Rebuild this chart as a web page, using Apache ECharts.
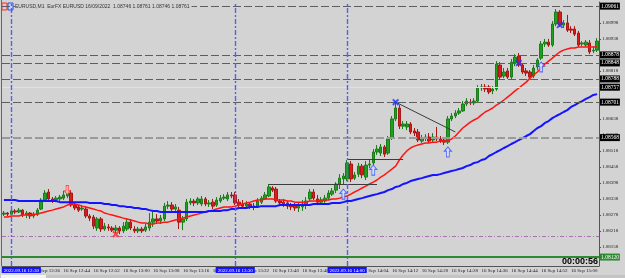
<!DOCTYPE html>
<html>
<head>
<meta charset="utf-8">
<script src="https://cdn.jsdelivr.net/npm/echarts@6/dist/echarts.min.js"></script>
<style>
html,body{margin:0;padding:0;background:#d3d3d3;}
#chart{width:625px;height:278px;}
</style>
</head>
<body>
<div id="chart"></div>
<script>
// M1 bars, 16 Sep 2022 12:28 - 15:07
const times = [
  '12:28','12:29','12:30','12:31','12:32','12:33','12:34','12:35','12:36','12:37','12:38','12:39','12:40','12:41','12:42','12:43','12:44','12:45','12:46','12:47','12:48','12:49','12:50','12:51','12:52','12:53','12:54','12:55','12:56','12:57','12:58','12:59',
  '13:00','13:01','13:02','13:03','13:04','13:05','13:06','13:07','13:08','13:09','13:10','13:11','13:12','13:13','13:14','13:15','13:16','13:17','13:18','13:19','13:20','13:21','13:22','13:23','13:24','13:25','13:26','13:27','13:28','13:29',
  '13:30','13:31','13:32','13:33','13:34','13:35','13:36','13:37','13:38','13:39','13:40','13:41','13:42','13:43','13:44','13:45','13:46','13:47','13:48','13:49','13:50','13:51','13:52','13:53','13:54','13:55','13:56','13:57','13:58','13:59',
  '14:00','14:01','14:02','14:03','14:04','14:05','14:06','14:07','14:08','14:09','14:10','14:11','14:12','14:13','14:14','14:15','14:16','14:17','14:18','14:19','14:20','14:21','14:22','14:23','14:24','14:25','14:26','14:27','14:28','14:29',
  '14:30','14:31','14:32','14:33','14:34','14:35','14:36','14:37','14:38','14:39','14:40','14:41','14:42','14:43','14:44','14:45','14:46','14:47','14:48','14:49','14:50','14:51','14:52','14:53','14:54','14:55','14:56','14:57','14:58','14:59',
  '15:00','15:01','15:02','15:03','15:04','15:05','15:06','15:07'
]

// [open, close, low, high]
const candles = [
  [1.08281,1.08285,1.08274,1.08293],[1.08285,1.08281,1.08274,1.08289],[1.08281,1.08293,1.08278,1.08300],[1.08293,1.08289,1.08281,1.08300],
  [1.08289,1.08296,1.08285,1.08304],[1.08296,1.08278,1.08270,1.08300],[1.08278,1.08285,1.08266,1.08293],[1.08285,1.08274,1.08263,1.08289],
  [1.08274,1.08281,1.08266,1.08289],[1.08281,1.08296,1.08274,1.08304],[1.08300,1.08334,1.08296,1.08341],[1.08334,1.08360,1.08330,1.08371],
  [1.08364,1.08338,1.08334,1.08375],[1.08338,1.08334,1.08323,1.08345],[1.08334,1.08341,1.08326,1.08349],[1.08338,1.08345,1.08330,1.08353],
  [1.08341,1.08353,1.08334,1.08368],[1.08349,1.08364,1.08341,1.08383],[1.08360,1.08315,1.08308,1.08371],[1.08315,1.08304,1.08296,1.08326],
  [1.08308,1.08296,1.08289,1.08315],[1.08300,1.08304,1.08293,1.08315],[1.08300,1.08274,1.08266,1.08308],[1.08274,1.08266,1.08255,1.08281],
  [1.08270,1.08236,1.08225,1.08278],[1.08229,1.08263,1.08218,1.08270],[1.08263,1.08225,1.08214,1.08270],[1.08225,1.08236,1.08218,1.08248],
  [1.08233,1.08229,1.08218,1.08244],[1.08229,1.08221,1.08214,1.08236],[1.08221,1.08229,1.08210,1.08240],[1.08229,1.08218,1.08206,1.08236],
  [1.08218,1.08236,1.08210,1.08251],[1.08225,1.08251,1.08218,1.08266],[1.08251,1.08229,1.08221,1.08263],[1.08225,1.08218,1.08210,1.08236],
  [1.08218,1.08225,1.08210,1.08233],[1.08225,1.08218,1.08210,1.08233],[1.08221,1.08233,1.08214,1.08244],[1.08229,1.08251,1.08218,1.08285],
  [1.08251,1.08263,1.08233,1.08289],[1.08263,1.08255,1.08244,1.08281],[1.08255,1.08266,1.08244,1.08278],[1.08263,1.08311,1.08255,1.08323],
  [1.08311,1.08315,1.08300,1.08330],[1.08315,1.08300,1.08293,1.08326],[1.08300,1.08308,1.08293,1.08319],[1.08296,1.08251,1.08225,1.08308],
  [1.08251,1.08263,1.08221,1.08274],[1.08263,1.08326,1.08255,1.08338],[1.08323,1.08330,1.08315,1.08341],[1.08330,1.08323,1.08311,1.08338],
  [1.08323,1.08338,1.08315,1.08345],[1.08319,1.08338,1.08311,1.08349],[1.08338,1.08319,1.08311,1.08345],[1.08319,1.08323,1.08308,1.08334],
  [1.08326,1.08311,1.08300,1.08338],[1.08315,1.08334,1.08308,1.08345],[1.08330,1.08341,1.08323,1.08353],[1.08341,1.08345,1.08334,1.08356],
  [1.08338,1.08353,1.08330,1.08364],[1.08353,1.08349,1.08341,1.08364],[1.08353,1.08323,1.08315,1.08364],[1.08326,1.08315,1.08308,1.08338],
  [1.08319,1.08311,1.08304,1.08334],[1.08311,1.08319,1.08304,1.08330],[1.08319,1.08311,1.08300,1.08326],[1.08311,1.08308,1.08296,1.08323],
  [1.08311,1.08330,1.08304,1.08341],[1.08326,1.08341,1.08319,1.08349],[1.08338,1.08353,1.08334,1.08364],[1.08349,1.08383,1.08345,1.08394],
  [1.08379,1.08371,1.08364,1.08386],[1.08375,1.08330,1.08323,1.08383],[1.08330,1.08323,1.08311,1.08338],[1.08326,1.08315,1.08308,1.08338],
  [1.08323,1.08311,1.08300,1.08330],[1.08311,1.08308,1.08296,1.08323],[1.08315,1.08304,1.08293,1.08323],[1.08304,1.08311,1.08289,1.08323],
  [1.08308,1.08319,1.08293,1.08334],[1.08315,1.08330,1.08300,1.08345],[1.08338,1.08364,1.08330,1.08375],[1.08364,1.08341,1.08334,1.08375],
  [1.08338,1.08326,1.08315,1.08353],[1.08326,1.08334,1.08319,1.08345],[1.08330,1.08341,1.08323,1.08353],[1.08341,1.08360,1.08334,1.08371],
  [1.08356,1.08368,1.08349,1.08379],[1.08371,1.08394,1.08360,1.08401],[1.08394,1.08416,1.08375,1.08431],[1.08413,1.08424,1.08394,1.08435],
  [1.08413,1.08473,1.08405,1.08484],[1.08469,1.08413,1.08401,1.08480],[1.08416,1.08428,1.08409,1.08439],[1.08431,1.08461,1.08420,1.08473],
  [1.08461,1.08428,1.08416,1.08469],[1.08420,1.08465,1.08409,1.08480],[1.08465,1.08469,1.08454,1.08484],[1.08473,1.08514,1.08465,1.08525],
  [1.08514,1.08525,1.08503,1.08540],[1.08510,1.08533,1.08499,1.08544],[1.08533,1.08506,1.08495,1.08540],[1.08510,1.08563,1.08503,1.08574],
  [1.08566,1.08638,1.08559,1.08649],[1.08638,1.08679,1.08630,1.08705],[1.08679,1.08611,1.08600,1.08690],[1.08611,1.08619,1.08600,1.08630],
  [1.08608,1.08619,1.08596,1.08630],[1.08619,1.08589,1.08581,1.08626],[1.08593,1.08585,1.08574,1.08604],[1.08589,1.08559,1.08551,1.08600],
  [1.08555,1.08566,1.08548,1.08578],[1.08566,1.08570,1.08555,1.08581],[1.08570,1.08555,1.08548,1.08585],[1.08559,1.08570,1.08551,1.08585],
  [1.08570,1.08563,1.08555,1.08608],[1.08563,1.08555,1.08548,1.08574],[1.08559,1.08551,1.08540,1.08570],[1.08551,1.08638,1.08544,1.08649],
  [1.08638,1.08649,1.08630,1.08660],[1.08649,1.08660,1.08641,1.08671],[1.08660,1.08668,1.08653,1.08679],[1.08668,1.08694,1.08664,1.08705],
  [1.08694,1.08705,1.08686,1.08716],[1.08701,1.08698,1.08690,1.08713],[1.08698,1.08705,1.08690,1.08716],[1.08705,1.08754,1.08698,1.08765],
  [1.08754,1.08758,1.08743,1.08769],[1.08758,1.08750,1.08739,1.08769],[1.08758,1.08739,1.08731,1.08765],[1.08743,1.08750,1.08731,1.08761],
  [1.08750,1.08844,1.08743,1.08855],[1.08840,1.08795,1.08788,1.08851],[1.08799,1.08814,1.08791,1.08829],[1.08818,1.08795,1.08788,1.08829],
  [1.08795,1.08851,1.08788,1.08863],[1.08848,1.08870,1.08836,1.08881],[1.08874,1.08840,1.08833,1.08885],[1.08840,1.08814,1.08806,1.08848],
  [1.08818,1.08810,1.08799,1.08829],[1.08814,1.08795,1.08788,1.08821],[1.08799,1.08829,1.08791,1.08840],[1.08833,1.08859,1.08821,1.08866],
  [1.08866,1.08919,1.08859,1.08930],[1.08919,1.08926,1.08908,1.08938],[1.08926,1.08915,1.08908,1.08938],[1.08915,1.08994,1.08908,1.09005],
  [1.08994,1.09039,1.08986,1.09050],[1.09039,1.08990,1.08983,1.09046],[1.08990,1.08998,1.08979,1.09009],[1.08998,1.08971,1.08964,1.09028],
  [1.08975,1.08971,1.08960,1.08986],[1.08975,1.08956,1.08949,1.08986],[1.08960,1.08915,1.08908,1.08968],[1.08919,1.08923,1.08911,1.08930],
  [1.08915,1.08926,1.08908,1.08934],[1.08923,1.08889,1.08881,1.08934],[1.08893,1.08896,1.08885,1.08911],[1.08896,1.08930,1.08889,1.08941]
]

// fast moving average (red)
const maFast = [
  1.08270,1.08270,1.08274,1.08274,1.08274,1.08278,1.08278,1.08278,1.08281,1.08281,
  1.08285,1.08289,1.08293,1.08296,1.08300,1.08304,1.08308,1.08315,1.08319,1.08319,
  1.08315,1.08311,1.08308,1.08304,1.08300,1.08296,1.08293,1.08285,1.08281,1.08278,
  1.08274,1.08270,1.08266,1.08263,1.08259,1.08255,1.08251,1.08248,1.08248,1.08244,
  1.08244,1.08248,1.08248,1.08251,1.08251,1.08255,1.08259,1.08263,1.08266,1.08270,
  1.08274,1.08278,1.08281,1.08285,1.08289,1.08293,1.08296,1.08300,1.08304,1.08308,
  1.08308,1.08308,1.08311,1.08315,1.08319,1.08323,1.08326,1.08330,1.08334,1.08334,
  1.08338,1.08338,1.08338,1.08334,1.08334,1.08334,1.08330,1.08330,1.08326,1.08326,
  1.08326,1.08326,1.08330,1.08330,1.08330,1.08334,1.08334,1.08334,1.08338,1.08338,
  1.08341,1.08345,1.08349,1.08356,1.08364,1.08371,1.08379,1.08386,1.08394,1.08401,
  1.08409,1.08420,1.08428,1.08439,1.08450,1.08461,1.08484,1.08503,1.08518,1.08529,
  1.08536,1.08540,1.08544,1.08548,1.08548,1.08551,1.08551,1.08555,1.08555,1.08555,
  1.08563,1.08574,1.08589,1.08604,1.08615,1.08626,1.08634,1.08641,1.08653,1.08664,
  1.08671,1.08679,1.08690,1.08698,1.08709,1.08720,1.08731,1.08743,1.08754,1.08765,
  1.08776,1.08791,1.08803,1.08814,1.08829,1.08844,1.08855,1.08866,1.08878,1.08889,
  1.08896,1.08900,1.08904,1.08904,1.08908,1.08908,1.08908,1.08908,1.08908,1.08908
]

// slow moving average (blue)
const maSlow = [
  1.08334,1.08334,1.08334,1.08334,1.08330,1.08330,1.08330,1.08330,1.08330,1.08330,
  1.08330,1.08330,1.08330,1.08330,1.08330,1.08326,1.08326,1.08326,1.08326,1.08326,
  1.08326,1.08326,1.08326,1.08323,1.08323,1.08323,1.08323,1.08319,1.08319,1.08315,
  1.08315,1.08311,1.08311,1.08308,1.08308,1.08304,1.08304,1.08300,1.08300,1.08296,
  1.08293,1.08293,1.08289,1.08289,1.08289,1.08289,1.08289,1.08289,1.08289,1.08289,
  1.08289,1.08289,1.08289,1.08289,1.08289,1.08293,1.08293,1.08293,1.08293,1.08296,
  1.08296,1.08300,1.08300,1.08304,1.08304,1.08304,1.08308,1.08308,1.08308,1.08311,
  1.08311,1.08311,1.08311,1.08311,1.08315,1.08315,1.08315,1.08315,1.08315,1.08315,
  1.08315,1.08315,1.08315,1.08319,1.08319,1.08319,1.08319,1.08319,1.08323,1.08323,
  1.08323,1.08326,1.08330,1.08330,1.08334,1.08338,1.08341,1.08345,1.08349,1.08353,
  1.08356,1.08360,1.08364,1.08371,1.08375,1.08383,1.08386,1.08394,1.08398,1.08405,
  1.08409,1.08413,1.08416,1.08420,1.08424,1.08428,1.08428,1.08431,1.08435,1.08439,
  1.08443,1.08446,1.08450,1.08454,1.08461,1.08465,1.08473,1.08476,1.08484,1.08488,
  1.08499,1.08506,1.08514,1.08521,1.08529,1.08536,1.08544,1.08551,1.08559,1.08566,
  1.08574,1.08581,1.08593,1.08604,1.08611,1.08623,1.08630,1.08641,1.08649,1.08656,
  1.08664,1.08671,1.08683,1.08690,1.08698,1.08705,1.08713,1.08720,1.08728,1.08731
]

const priceTicks = [1.08158,1.08218,1.08278,1.08338,1.08398,1.08458,1.08518,1.08578,1.08638,1.08698,1.08758,1.08818,1.08878,1.08938,1.08998]

// horizontal levels
const darkLevels = [1.09061, 1.08878, 1.08848, 1.08788, 1.08701]
const lightLevel = 1.08568
const yellowLevel = 1.08757
const purpleLevel = 1.08199
const bidLevel = 1.08120

// session separators
const sessionTimes = ['12:30', '13:30', '14:00']
const sessionLabels = ['2022.09.16 12:30', '2022.09.16 13:30', '2022.09.16 14:00']

// drawn trend lines: [startTime, startPrice, endTime, endPrice]
const trendLines = [
  ['13:39', 1.08394, '14:08', 1.08394],
  ['14:00', 1.08488, '14:15', 1.08488],
  ['14:13', 1.08701, '14:29', 1.08589]
]

// signal markers
const blueCross = [['14:13', 1.08701], ['14:46', 1.08848], ['14:57', 1.08990]]
const redCross = [['12:58', 1.08206]]
const buyArrows = [['13:59', 1.08356], ['14:07', 1.08446], ['14:27', 1.08514], ['14:52', 1.08833]]
const sellArrows = [['12:45', 1.08371]]

const chart = echarts.init(document.getElementById('chart'))

const fmt = v => v.toFixed(5)
const every8 = (idx) => idx % 8 === 0
const crossPath = 'path://M2,0L5,3L8,0L10,2L7,5L10,8L8,10L5,7L2,10L0,8L3,5L0,2Z'
const arrowPath = 'path://M5,0L10,5L7,5L7,12L3,12L3,5L0,5Z'
const smallFont = 'Liberation Sans Narrow'

const boxLabel = (bg) => ({
  show: true, position: 'end', formatter: p => fmt(p.value), distance: 1,
  backgroundColor: bg, color: '#fff', fontSize: 5.5, fontFamily: smallFont,
  padding: [1, 1, 0, 1]
})

const markLines = []
darkLevels.forEach(v => markLines.push({
  yAxis: v, lineStyle: { color: '#5e5e5e', type: [8, 3], width: 1 }, label: boxLabel('#000')
}))
markLines.push({ yAxis: lightLevel, lineStyle: { color: '#9a9a9a', type: [8, 3], width: 2 }, label: boxLabel('#000') })
markLines.push({ yAxis: yellowLevel, lineStyle: { color: '#f2f25a', type: 'solid', width: 1 }, label: boxLabel('#000') })
markLines.push({ yAxis: purpleLevel, lineStyle: { color: '#a873b0', type: [4, 2, 1, 2], width: 1 }, label: { show: false } })
markLines.push({ yAxis: bidLevel, lineStyle: { color: '#2f8a2f', type: 'solid', width: 2 }, label: boxLabel('#2f8a2f') })
trendLines.forEach(l => markLines.push([
  { coord: [l[0], l[1]], lineStyle: { color: '#3c3c3c', type: 'solid', width: 1 }, label: { show: false } },
  { coord: [l[2], l[3]] }
]))

const sessionMarks = sessionTimes.map((t, i) => ({
  xAxis: t,
  label: { formatter: sessionLabels[i], offset: i === 0 ? [10, 0] : [0, 0] }
}))

const option = {
  animation: false,
  backgroundColor: '#d3d3d3',
  grid: { left: 2, right: 26, top: 2, bottom: 12 },
  xAxis: {
    type: 'category',
    data: times,
    boundaryGap: true,
    axisLine: { lineStyle: { color: '#555', width: 1 } },
    axisTick: { alignWithLabel: true, interval: every8, length: 3, lineStyle: { color: '#555' } },
    axisLabel: {
      interval: every8, formatter: v => '16 Sep ' + v, align: 'left', margin: 2,
      fontSize: 5, color: '#222', fontFamily: smallFont
    },
    splitLine: { show: false }
  },
  yAxis: {
    type: 'value',
    position: 'right',
    min: 1.080865,
    max: 1.090765,
    splitLine: { show: false },
    axisLine: { show: true, lineStyle: { color: '#555', width: 1 } },
    axisTick: { show: true, length: 2, customValues: priceTicks, lineStyle: { color: '#555' } },
    axisLabel: {
      customValues: priceTicks, formatter: fmt, margin: 3,
      fontSize: 5, color: '#222', fontFamily: smallFont
    }
  },
  series: [
    {
      type: 'candlestick',
      data: candles,
      barWidth: 3,
      itemStyle: {
        color: '#1fa01f', color0: '#d91c1c',
        borderColor: '#1a7d1a', borderColor0: '#a81616', borderWidth: 1
      },
      markLine: { silent: true, precision: 5, symbol: ['none', 'none'], data: markLines }
    },
    {
      type: 'line', data: maFast, showSymbol: false, z: 3,
      lineStyle: { color: '#ff1414', width: 1.5 }
    },
    {
      type: 'line', data: maSlow, showSymbol: false, z: 3,
      lineStyle: { color: '#1414ff', width: 2 },
      markLine: {
        silent: true, symbol: ['none', 'none'],
        lineStyle: { color: '#5a5aff', type: [5, 2, 2, 2], width: 1.4, opacity: 1 },
        emphasis: { disabled: true },
        label: {
          show: true, position: 'start', distance: 1,
          backgroundColor: '#1414ff', color: '#fff', fontSize: 5, fontFamily: smallFont,
          padding: [1, 2, 0, 2]
        },
        data: sessionMarks
      }
    },
    {
      type: 'scatter', data: blueCross, symbol: crossPath, symbolSize: 7, z: 5,
      itemStyle: { color: '#2233ff' }
    },
    {
      type: 'scatter', data: redCross, symbol: crossPath, symbolSize: 7, z: 5,
      itemStyle: { color: '#ff2020' }
    },
    {
      type: 'scatter', data: buyArrows, symbol: arrowPath, symbolSize: [7, 10], z: 5,
      itemStyle: { color: '#dfe3ff', borderColor: '#3050ff', borderWidth: 1 }
    },
    {
      type: 'scatter', data: sellArrows, symbol: arrowPath, symbolSize: [6, 9], symbolRotate: 180, z: 5,
      itemStyle: { color: '#ffd8d8', borderColor: '#ff3030', borderWidth: 1 }
    }
  ],
  graphic: [
    { type: 'line', shape: { x1: 1.5, y1: 0, x2: 1.5, y2: 266 }, style: { stroke: '#666', lineWidth: 1 } },
    { type: 'rect', shape: { x: 0, y: 275, width: 625, height: 3 }, style: { fill: '#c4c4c4' } },
    { type: 'rect', shape: { x: 1, y: 275, width: 45, height: 3 }, style: { fill: '#f4f4f4' } },
    { type: 'rect', shape: { x: 2, y: 3, width: 5, height: 7 }, style: { fill: '#f0c0c0', stroke: '#d04040', lineWidth: 1 } },
    { type: 'rect', shape: { x: 8, y: 3, width: 5, height: 7 }, style: { fill: '#c8d4ff', stroke: '#3050d0', lineWidth: 1 } },
    {
      type: 'text', left: 15, top: 4, z: 10,
      style: {
        text: 'EURUSD,M1  EurFX EURUSD 16/09/2022  1.08746 1.08761 1.08746 1.08761',
        fill: '#333', fontSize: 5, fontFamily: 'Liberation Sans',
        backgroundColor: '#d3d3d3', padding: [0, 2, 0, 0]
      }
    },
    {
      type: 'text', right: 27, top: 257, z: 10,
      style: { text: '00:00:56', fill: '#000', fontSize: 9, fontWeight: 'bold', fontFamily: 'Liberation Sans' }
    }
  ]
}

chart.setOption(option)
</script>
</body>
</html>
